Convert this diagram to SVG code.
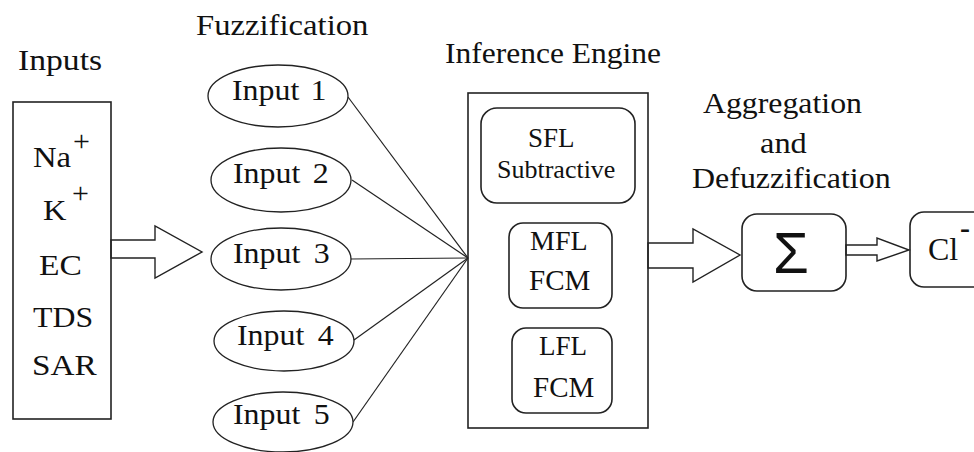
<svg xmlns="http://www.w3.org/2000/svg" width="974" height="452" viewBox="0 0 974 452">
<style>
.box{fill:none;stroke:#222;stroke-width:1.6;}
.ell{fill:#fff;stroke:#222;stroke-width:1.3;}
.ln{fill:none;stroke:#222;stroke-width:1.2;}
.arr{fill:#fff;stroke:#222;stroke-width:1.4;stroke-linejoin:miter;}
</style>
<rect width="974" height="452" fill="#fff"/>
<g id="titles">
<text font-family="Liberation Serif" transform="translate(18,70) scale(1.16,1)" font-size="29" fill="#111">Inputs</text>
<text font-family="Liberation Serif" transform="translate(196,35) scale(1.09,1)" font-size="30" fill="#111">Fuzzification</text>
<text font-family="Liberation Serif" transform="translate(445,63) scale(1.05,1)" font-size="30" fill="#111">Inference Engine</text>
<text font-family="Liberation Serif" transform="translate(703,113) scale(1.06,1)" font-size="30" fill="#111">Aggregation</text>
<text font-family="Liberation Serif" transform="translate(760,153) scale(1.08,1)" font-size="30" fill="#111">and</text>
<text font-family="Liberation Serif" transform="translate(692,188) scale(1.065,1)" font-size="30" fill="#111">Defuzzification</text>
</g>

<g id="connectors">
<polygon class="arr" points="111,240 155,240 155,226 202,252 155,278 155,258 111,258"/>
<line class="ln" x1="348" y1="97" x2="468" y2="258"/>
<line class="ln" x1="352" y1="180" x2="468" y2="258"/>
<line class="ln" x1="350" y1="259" x2="468" y2="258"/>
<line class="ln" x1="354" y1="340" x2="468" y2="258"/>
<line class="ln" x1="353" y1="422" x2="468" y2="258"/>
<polygon class="arr" points="648,243 693,243 693,229 740,255 693,282 693,268 648,268"/>
<polygon class="arr" points="846,245 877,245 877,238 909,250 877,261 877,255 846,255"/>
</g>

<g id="inputs">
<rect class="box" x="13" y="102" width="98" height="317"/>
<text font-family="Liberation Serif" transform="translate(33,167) scale(1.09,1)" font-size="30" fill="#111">Na</text>
<text font-family="Liberation Serif" x="73" y="151" font-size="30" fill="#111">+</text>
<text font-family="Liberation Serif" transform="translate(43,220) scale(1.08,1)" font-size="30" fill="#111">K</text>
<text font-family="Liberation Serif" x="72" y="203" font-size="30" fill="#111">+</text>
<text font-family="Liberation Serif" transform="translate(39,275) scale(1.12,1)" font-size="30" fill="#111">EC</text>
<text font-family="Liberation Serif" transform="translate(33,327) scale(1.06,1)" font-size="30" fill="#111">TDS</text>
<text font-family="Liberation Serif" transform="translate(32,375) scale(1.11,1)" font-size="30" fill="#111">SAR</text>
</g>

<g id="input1">
<ellipse class="ell" cx="278" cy="96" rx="70" ry="31"/>
<text font-family="Liberation Serif" transform="translate(232,100) scale(1.1,1)" font-size="29" word-spacing="3" fill="#111">Input 1</text>
</g>
<g id="input2">
<ellipse class="ell" cx="281" cy="180" rx="70" ry="32"/>
<text font-family="Liberation Serif" transform="translate(233,183) scale(1.1,1)" font-size="29" word-spacing="4" fill="#111">Input 2</text>
</g>
<g id="input3">
<ellipse class="ell" cx="281" cy="259" rx="70" ry="31"/>
<text font-family="Liberation Serif" transform="translate(233,263) scale(1.1,1)" font-size="29" word-spacing="5" fill="#111">Input 3</text>
</g>
<g id="input4">
<ellipse class="ell" cx="284" cy="341" rx="70" ry="30"/>
<text font-family="Liberation Serif" transform="translate(237,345) scale(1.1,1)" font-size="29" word-spacing="5" fill="#111">Input 4</text>
</g>
<g id="input5">
<ellipse class="ell" cx="283" cy="422" rx="70" ry="30"/>
<text font-family="Liberation Serif" transform="translate(233,424) scale(1.1,1)" font-size="29" word-spacing="5" fill="#111">Input 5</text>
</g>

<g id="inference">
<rect class="box" x="468" y="93" width="180" height="335"/>
</g>
<g id="sfl">
<rect class="box" x="481" y="108" width="154" height="95" rx="16"/>
<text font-family="Liberation Serif" x="528" y="147" font-size="27" fill="#111">SFL</text>
<text font-family="Liberation Serif" x="497" y="178" font-size="26" fill="#111">Subtractive</text>
</g>
<g id="mfl">
<rect class="box" x="509" y="223" width="103" height="85" rx="14"/>
<text font-family="Liberation Serif" x="530" y="250" font-size="28" fill="#111">MFL</text>
<text font-family="Liberation Serif" x="529" y="290" font-size="29" fill="#111">FCM</text>
</g>
<g id="lfl">
<rect class="box" x="512" y="328" width="100" height="85" rx="14"/>
<text font-family="Liberation Serif" x="539" y="355" font-size="27" fill="#111">LFL</text>
<text font-family="Liberation Serif" x="533" y="397" font-size="29" fill="#111">FCM</text>
</g>

<g id="sigma">
<rect class="box" x="742" y="214" width="104" height="77" rx="15"/>
<text font-family="Liberation Sans" x="791" y="273" font-size="58" text-anchor="middle" fill="#111">Σ</text>
</g>

<g id="cl">
<rect class="box" x="910" y="212" width="80" height="75" rx="14"/>
<text font-family="Liberation Serif" x="928" y="260" font-size="32" fill="#111">Cl</text>
<text font-family="Liberation Serif" x="960" y="238" font-size="30" font-weight="bold" fill="#111">-</text>
</g>
</svg>
